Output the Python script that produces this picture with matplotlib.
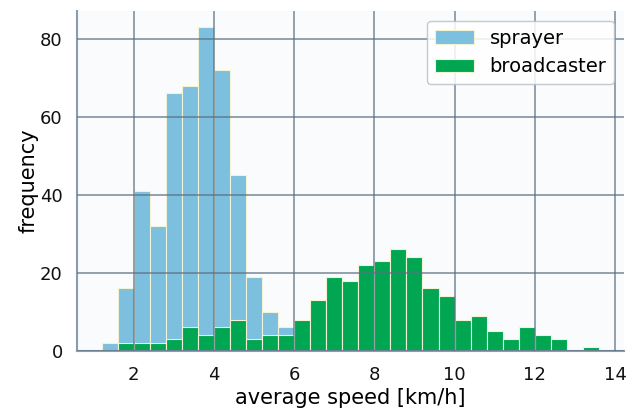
import matplotlib
matplotlib.use("Agg")
import matplotlib.pyplot as plt
import numpy as np

# histogram bins (left edges, km/h) and counts
bin_left = [1.2, 1.6, 2.0, 2.4, 2.8, 3.2, 3.6, 4.0, 4.4, 4.8, 5.2, 5.6, 6.0,
            6.4, 6.8, 7.2, 7.6, 8.0, 8.4, 8.8, 9.2, 9.6, 10.0, 10.4, 10.8,
            11.2, 11.6, 12.0, 12.4, 12.8, 13.2]
bin_width = 0.4
sprayer = [2, 16, 41, 32, 66, 68, 83, 72, 45, 19, 10, 6, 0,
           0, 0, 0, 0, 0, 0, 0, 0, 0, 0, 0, 0,
           0, 0, 0, 0, 0, 0]
broadcaster = [0, 2, 2, 2, 3, 6, 4, 6, 8, 3, 4, 4, 8,
               13, 19, 18, 22, 23, 26, 24, 16, 14, 8, 9, 5,
               3, 6, 4, 3, 0, 1]
labels = ["sprayer", "broadcaster"]

BLUE, GREEN, EDGE = "#7cbfdf", "#00a651", "#f2f2d4"
GRID, SPINE = "#5b7082", "#8d9cab"

fig = plt.figure(figsize=(6.34, 4.08), dpi=100)
fig.patch.set_facecolor("white")
ax = fig.add_axes([0.121, 0.14, 0.863, 0.833])
ax.set_facecolor("#fafbfd")

ax.bar(bin_left, sprayer, width=bin_width, align="edge", color=BLUE,
       edgecolor=EDGE, linewidth=0.8, label=labels[0])
ax.bar(bin_left, broadcaster, width=bin_width, align="edge", color=GREEN,
       edgecolor=EDGE, linewidth=0.8, label=labels[1])

ax.set_axisbelow(False)
ax.grid(True, color=GRID, alpha=0.65, lw=1.4)
ax.set_xticks([2, 4, 6, 8, 10, 12, 14])
ax.set_yticks([0, 20, 40, 60, 80])
for side in ("top", "right"):
    ax.spines[side].set_visible(False)
for side in ("left", "bottom"):
    ax.spines[side].set_color(SPINE)
    ax.spines[side].set_linewidth(1.5)
ax.tick_params(axis="x", length=0, labelsize=13, pad=11, colors="#111111")
ax.tick_params(axis="y", length=0, labelsize=13, pad=10, colors="#111111")

ax.set_xlabel("average speed [km/h]", fontsize=15, labelpad=3)
ax.set_ylabel("frequency", fontsize=15, labelpad=1)

leg = ax.legend(loc="upper right", fontsize=14, frameon=True, fancybox=True,
                framealpha=0.85, edgecolor="#b8c0c8", handlelength=2.0,
                borderaxespad=0.5)
leg.set_zorder(5)

fig.savefig("out.png", dpi=100)
